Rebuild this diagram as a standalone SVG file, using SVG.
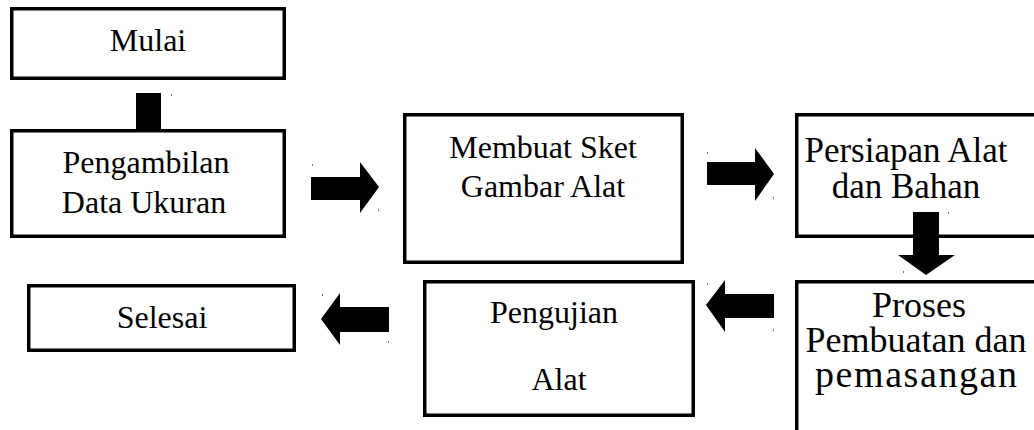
<svg xmlns="http://www.w3.org/2000/svg" width="1034" height="430" viewBox="0 0 1034 430">
  <style>
    .box { fill: #fff; stroke: #000; stroke-width: 3.5; }
    .lbl { font-family: "Liberation Serif", "Times New Roman", serif; font-size: 32px; fill: #000; text-anchor: middle; }
    .lg { font-size: 35px; }
    .xl { font-size: 36px; }
    .xxl { font-size: 38px; }
    .arrow { fill: #000; }
    .dot { fill: #777; }
  </style>
  <rect width="1034" height="430" fill="#fff"/>

  <g id="node-mulai">
    <rect class="box" x="11.75" y="8.75" width="272.5" height="69.5"/>
    <text class="lbl" x="148" y="51">Mulai</text>
  </g>

  <g id="node-pengambilan">
    <rect class="box" x="11.75" y="130.75" width="272.5" height="105.5"/>
    <text class="lbl" x="146" y="173">Pengambilan</text>
    <text class="lbl" x="144" y="213">Data Ukuran</text>
  </g>

  <g id="node-sket">
    <rect class="box" x="404.75" y="114.75" width="277.5" height="147.5"/>
    <text class="lbl" x="543" y="158">Membuat Sket</text>
    <text class="lbl" x="543" y="197">Gambar Alat</text>
  </g>

  <g id="node-persiapan">
    <rect class="box" x="796.75" y="114.75" width="250" height="121.5"/>
    <text class="lbl lg" x="906" y="162">Persiapan Alat</text>
    <text class="lbl lg" x="906" y="198">dan Bahan</text>
  </g>

  <g id="node-proses">
    <rect class="box" x="796.75" y="281.75" width="250" height="170"/>
    <text class="lbl xl" x="919" y="317">Proses</text>
    <text class="lbl xl" x="916" y="352">Pembuatan dan</text>
    <text class="lbl xxl" x="916" y="387" textLength="202" lengthAdjust="spacing">pemasangan</text>
  </g>

  <g id="node-pengujian">
    <rect class="box" x="424.75" y="281.75" width="268.5" height="133.5"/>
    <text class="lbl" x="554" y="323">Pengujian</text>
    <text class="lbl" x="559" y="390">Alat</text>
  </g>

  <g id="node-selesai">
    <rect class="box" x="28.75" y="285.75" width="265.5" height="64.5"/>
    <text class="lbl" x="162" y="328">Selesai</text>
  </g>

  <g id="connectors">
    <!-- Mulai to Pengambilan: solid bar -->
    <rect class="arrow" x="136" y="93" width="25" height="38"/>
    <rect class="dot" x="171" y="94" width="1" height="2"/>

    <!-- Pengambilan to Sket -->
    <polygon class="arrow" points="311,177 360,177 360,162 379,187 360,213 360,200 311,200"/>
    <rect class="dot" x="312" y="164" width="1" height="2"/>
    <rect class="dot" x="378" y="209" width="1" height="2"/>

    <!-- Sket to Persiapan -->
    <polygon class="arrow" points="707,162 755,162 755,148 774,174 755,201 755,185 707,185"/>
    <rect class="dot" x="707" y="152" width="1" height="2"/>
    <rect class="dot" x="773" y="197" width="1" height="2"/>

    <!-- Persiapan to Proses -->
    <polygon class="arrow" points="913,212 939,212 939,255 955,255 926,275 898,255 913,255"/>
    <rect class="dot" x="948" y="212" width="1" height="2"/>
    <rect class="dot" x="903" y="271" width="1" height="2"/>

    <!-- Proses to Pengujian -->
    <polygon class="arrow" points="774,294 725,294 725,280 706,305 725,332 725,318 774,318"/>
    <rect class="dot" x="707" y="283" width="1" height="2"/>
    <rect class="dot" x="773" y="329" width="1" height="2"/>

    <!-- Pengujian to Selesai -->
    <polygon class="arrow" points="389,307 340,307 340,293 321,319 340,345 340,332 389,332"/>
    <rect class="dot" x="322" y="294" width="1" height="2"/>
    <rect class="dot" x="388" y="341" width="1" height="2"/>
  </g>
</svg>
